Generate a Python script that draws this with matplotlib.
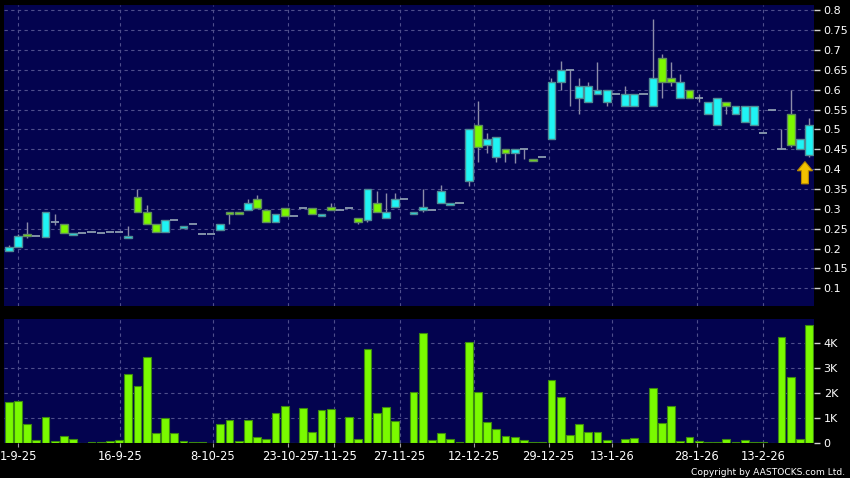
import numpy as np
import matplotlib
matplotlib.use('Agg')
from matplotlib import pyplot as plt
from matplotlib.ticker import FuncFormatter

# daily candles (price in HKD)
opens = [0.195, 0.205, 0.236, 0.231, 0.228, 0.267, 0.262, 0.234, 0.239, 0.241,
         0.239, 0.241, 0.241, 0.226, 0.330, 0.292, 0.262, 0.241, 0.272, 0.252,
         0.262, 0.236, 0.236, 0.247, 0.292, 0.292, 0.297, 0.325, 0.296, 0.267,
         0.302, 0.282, 0.303, 0.302, 0.282, 0.305, 0.297, 0.303, 0.277, 0.272,
         0.315, 0.277, 0.305, 0.325, 0.287, 0.297, 0.297, 0.315, 0.310, 0.315,
         0.369, 0.510, 0.460, 0.430, 0.450, 0.440, 0.450, 0.425, 0.430, 0.475,
         0.620, 0.650, 0.580, 0.570, 0.590, 0.570, 0.590, 0.560, 0.560, 0.590,
         0.560, 0.680, 0.630, 0.580, 0.600, 0.580, 0.540, 0.510, 0.570, 0.540,
         0.520, 0.510, 0.490, 0.550, 0.450, 0.540, 0.450, 0.435]
highs = [0.210, 0.237, 0.267, 0.231, 0.292, 0.287, 0.262, 0.239, 0.239, 0.241,
         0.239, 0.241, 0.241, 0.257, 0.350, 0.310, 0.262, 0.272, 0.272, 0.257,
         0.262, 0.236, 0.236, 0.262, 0.292, 0.292, 0.325, 0.336, 0.296, 0.287,
         0.302, 0.282, 0.303, 0.302, 0.287, 0.315, 0.297, 0.303, 0.277, 0.350,
         0.346, 0.340, 0.340, 0.325, 0.292, 0.350, 0.297, 0.361, 0.315, 0.315,
         0.500, 0.571, 0.490, 0.480, 0.450, 0.450, 0.450, 0.425, 0.430, 0.630,
         0.673, 0.650, 0.630, 0.620, 0.671, 0.600, 0.590, 0.610, 0.590, 0.590,
         0.778, 0.690, 0.670, 0.640, 0.600, 0.590, 0.570, 0.580, 0.570, 0.560,
         0.560, 0.560, 0.490, 0.550, 0.500, 0.600, 0.475, 0.530]
lows = [0.193, 0.205, 0.226, 0.231, 0.228, 0.260, 0.239, 0.234, 0.239, 0.241,
        0.239, 0.241, 0.241, 0.226, 0.292, 0.262, 0.241, 0.241, 0.272, 0.252,
        0.262, 0.236, 0.236, 0.247, 0.261, 0.287, 0.297, 0.302, 0.267, 0.267,
        0.282, 0.282, 0.303, 0.287, 0.282, 0.297, 0.297, 0.303, 0.261, 0.267,
        0.292, 0.277, 0.305, 0.325, 0.287, 0.292, 0.297, 0.315, 0.310, 0.315,
        0.358, 0.419, 0.440, 0.419, 0.419, 0.415, 0.425, 0.420, 0.430, 0.475,
        0.600, 0.560, 0.540, 0.570, 0.590, 0.560, 0.590, 0.560, 0.560, 0.590,
        0.560, 0.580, 0.610, 0.580, 0.580, 0.570, 0.540, 0.510, 0.540, 0.540,
        0.520, 0.510, 0.490, 0.550, 0.450, 0.455, 0.450, 0.430]
closes = [0.204, 0.232, 0.231, 0.231, 0.292, 0.267, 0.239, 0.239, 0.239, 0.241,
          0.239, 0.241, 0.241, 0.231, 0.292, 0.262, 0.241, 0.272, 0.272, 0.257,
          0.262, 0.236, 0.236, 0.262, 0.287, 0.287, 0.315, 0.302, 0.267, 0.287,
          0.282, 0.282, 0.303, 0.287, 0.287, 0.297, 0.297, 0.303, 0.267, 0.350,
          0.292, 0.292, 0.325, 0.325, 0.292, 0.305, 0.297, 0.345, 0.315, 0.315,
          0.500, 0.455, 0.475, 0.480, 0.440, 0.450, 0.450, 0.420, 0.430, 0.620,
          0.650, 0.650, 0.610, 0.610, 0.600, 0.600, 0.590, 0.590, 0.590, 0.590,
          0.630, 0.620, 0.620, 0.620, 0.580, 0.580, 0.570, 0.580, 0.560, 0.560,
          0.560, 0.560, 0.490, 0.550, 0.450, 0.460, 0.475, 0.510]
# volume in shares
volumes = [1630, 1700, 780, 120, 1050, 90, 290, 160, 0, 40,
           40, 90, 130, 2750, 2260, 3440, 410, 990, 410, 80,
           40, 40, 0, 750, 930, 90, 930, 240, 170, 1190,
           1470, 0, 1390, 450, 1320, 1360, 0, 1030, 170, 3730,
           1190, 1440, 890, 0, 2030, 4370, 120, 410, 170, 40,
           4040, 2040, 850, 560, 290, 260, 120, 40, 70, 2500,
           1850, 330, 780, 440, 450, 120, 0, 160, 200, 0,
           2210, 790, 1480, 90, 240, 90, 40, 40, 160, 40,
           120, 40, 40, 0, 4220, 2620, 160, 4700]

date_labels = ['1-9-25', '16-9-25', '8-10-25', '23-10-25', '7-11-25', '27-11-25',
               '12-12-25', '29-12-25', '13-1-26', '28-1-26', '13-2-26']
date_pos = [1.05, 12.1, 22.2, 30.4, 35.4, 42.5, 50.6, 58.7, 65.6, 74.8, 82.0]
price_ticks = [0.1, 0.15, 0.2, 0.25, 0.3, 0.35, 0.4, 0.45, 0.5, 0.55, 0.6, 0.65, 0.7, 0.75, 0.8]
vol_ticks = [0, 1000, 2000, 3000, 4000]

BG = '#03034f'
GRID = '#4e4e8c'
UP = '#1ff4f4'
DOWN = '#7cf800'

o = np.array(opens); h = np.array(highs); l = np.array(lows); c = np.array(closes)
x = np.arange(len(o))

fig = plt.figure(figsize=(8.5, 4.78), dpi=100)
fig.patch.set_facecolor('black')
ax = fig.add_axes([0.0047, 0.3598, 0.9529, 0.6297])
axv = fig.add_axes([0.0047, 0.0726, 0.9529, 0.26], sharex=ax)

for a in (ax, axv):
    a.set_facecolor(BG)
    for s in a.spines.values():
        s.set_visible(False)
    a.yaxis.tick_right()
    a.tick_params(axis='y', colors='#d0d0d0', labelcolor='white', length=4, width=1,
                  pad=3, labelsize=8)
    a.set_axisbelow(True)

# price panel
ax.set_ylim(0.0554, 0.8133)
ax.set_yticks(price_ticks)
ax.yaxis.set_major_formatter(FuncFormatter(lambda v, p: ('%.2f' % v).rstrip('0')))
ax.set_xticks(date_pos)
ax.tick_params(axis='x', bottom=False, labelbottom=False)
ax.grid(True, color=GRID, linestyle=(0, (3, 3)), linewidth=0.8)

ax.vlines(x, l, h, color='#8c8ca8', linewidth=1, zorder=2)
up = c > o
down = c < o
flat = c == o
ax.bar(x[up], (c - o)[up], bottom=o[up], width=0.86, color=UP,
       edgecolor='#4f8c94', linewidth=1, zorder=3)
ax.bar(x[down], (o - c)[down], bottom=c[down], width=0.86, color=DOWN,
       edgecolor='#5f8c5f', linewidth=1, zorder=3)
ax.hlines(o[flat], x[flat] - 0.45, x[flat] + 0.45, color='#8c9cb0', linewidth=1.3, zorder=3)

# marker arrow under the latest candle
tip = lows[-1] - 0.011
ax.arrow(x[-1] - 0.45, tip - 0.056, 0, 0.056, width=0.75, head_width=1.65,
         head_length=0.023, length_includes_head=True, facecolor='#f2c200',
         edgecolor='#b88a00', linewidth=0.8, zorder=4)
ax.set_xlim(-0.51, 87.53)

# volume panel
axv.set_ylim(0, 4940)
axv.set_yticks(vol_ticks)
axv.yaxis.set_major_formatter(FuncFormatter(lambda v, p: '0' if v == 0 else '%dK' % (v / 1000)))
axv.bar(x, volumes, width=0.86, color='#7afa00', edgecolor='#3c8a10', linewidth=0.8, zorder=3)
axv.grid(True, color=GRID, linestyle=(0, (3, 3)), linewidth=0.8)
axv.set_xticks(date_pos)
axv.set_xticklabels(date_labels)
axv.tick_params(axis='x', colors='#a0a0a0', labelcolor='white', length=3, pad=1.5, labelsize=8.3)

fig.text(0.994, 0.003, 'Copyright by AASTOCKS.com Ltd.', color='white', fontsize=6.6,
         ha='right', va='bottom')

fig.savefig('out.png', dpi=100, facecolor='black')
